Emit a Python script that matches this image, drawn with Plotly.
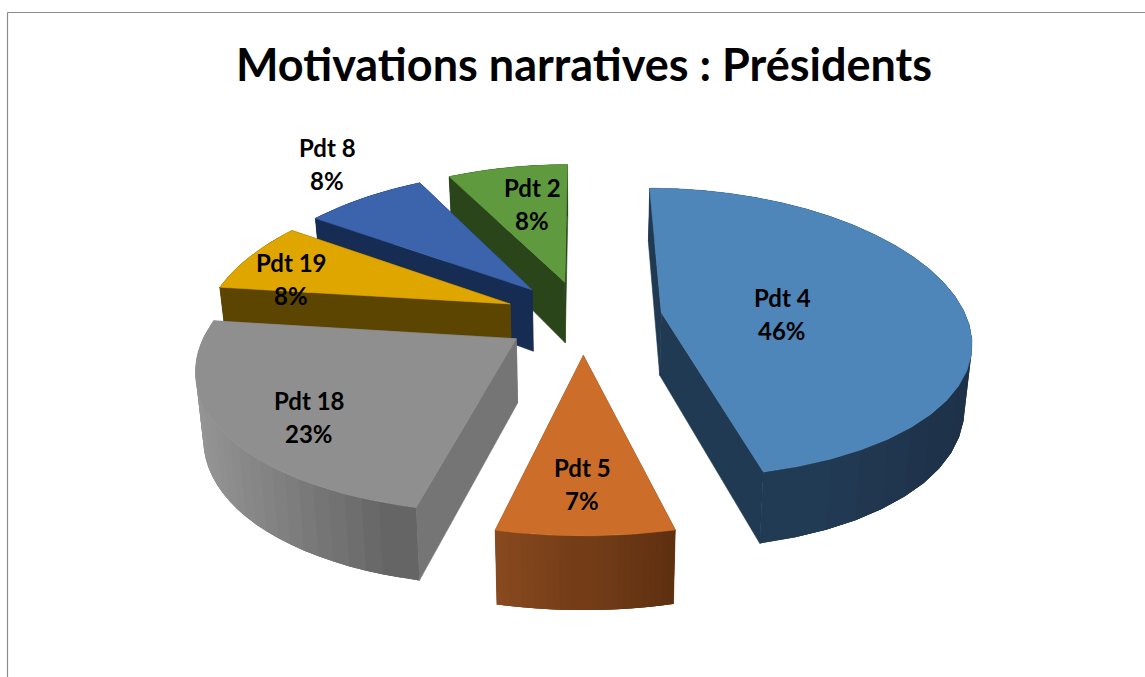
import math
import plotly.graph_objects as go

# ---- data (percent, clockwise from 12 o'clock)
categories = ["Pdt 4", "Pdt 5", "Pdt 18", "Pdt 19", "Pdt 8", "Pdt 2"]
values = [46.3, 7.45, 23.35, 7.7, 7.7, 7.7]
title_text = "Motivations narratives : Présidents"

# ---- styles
top_colors = ["#4f86b9", "#cc6e2a", "#8f8f8f", "#e0a600", "#3b64ad", "#5f9a3f"]
wall_colors = ["#213a53", "#6e3c18", "#757575", "#5c4500", "#172c52", "#2b451a"]
arc_left = ["#26425f", "#8a4a1f", "#969696", "#5c4500", "#172c52", "#2b451a"]
arc_right = ["#1d3046", "#5c2f10", "#636363", "#5c4500", "#172c52", "#2b451a"]
draw_order = [5, 4, 3, 2, 1, 0]
label_xy = [(782, 297, 330), (582, 467, 500), (309, 400, 433),
            (291, 262, 295), (327, 147, 180), (532, 187, 220)]

# ---- simple perspective projection of the exploded disc
CX, CY = 583, 317
R, RS = 305, 143
KX, KY = 0.175, 0.14
EXPLODE = 0.26


def project(u, v, bottom=False):
    x = CX + R * u / (1 + KX * v)
    y = CY - RS * v / (1 + KY * v)
    if bottom:
        x = CX + (x - CX) * 0.98
        y = y + 63 - 9 * v
    return x, y


def mix(a, b, t):
    ca = [int(a[i:i + 2], 16) for i in (1, 3, 5)]
    cb = [int(b[i:i + 2], 16) for i in (1, 3, 5)]
    return "#" + "".join(f"{round(p + (q - p) * t):02x}" for p, q in zip(ca, cb))


def poly(pts, color, lw=0.6):
    xs = [p[0] for p in pts] + [pts[0][0]]
    ys = [p[1] for p in pts] + [pts[0][1]]
    return go.Scatter(x=xs, y=ys, mode="lines", fill="toself", fillcolor=color,
                      line=dict(color=color, width=lw), hoverinfo="skip",
                      showlegend=False)


total = sum(values)
edges = [0.0]
for val in values:
    edges.append(edges[-1] + 360.0 * val / total)

fig = go.Figure()
STEPS = 28
for i in draw_order:
    a0, a1 = math.radians(edges[i]), math.radians(edges[i + 1])
    mid = (a0 + a1) / 2
    ou, ov = EXPLODE * math.sin(mid), EXPLODE * math.cos(mid)
    angs = [a0 + (a1 - a0) * k / STEPS for k in range(STEPS + 1)]
    rim = [(ou + math.sin(a), ov + math.cos(a)) for a in angs]
    apex = (ou, ov)
    walls = []
    for corner in (rim[0], rim[-1]):
        pts = [project(*apex), project(*corner),
               project(*corner, bottom=True), project(*apex, bottom=True)]
        walls.append(((apex[1] + corner[1]) / 2, pts, wall_colors[i], 0.6))
    xs_rim = [project(*p)[0] for p in rim]
    xmin, xmax = min(xs_rim), max(xs_rim)
    for k in range(STEPS):
        seg = rim[max(k - 1, 0):min(k + 3, STEPS + 1)]
        pts = [project(*p) for p in seg] + [project(*p, bottom=True) for p in reversed(seg)]
        cm = project(*rim[k])[0] / 2 + project(*rim[k + 1])[0] / 2
        t = (cm - xmin) / (xmax - xmin)
        dv = (rim[k][1] + rim[k + 1][1]) / 2
        walls.append((dv, pts, mix(arc_left[i], arc_right[i], t), 0))
    for _, pts, col, lw in sorted(walls, key=lambda w: -w[0]):
        fig.add_trace(poly(pts, col, lw))
    fig.add_trace(poly([project(*apex)] + [project(*p) for p in rim], top_colors[i]))

FONT = "Lato, Carlito, Calibri, sans-serif"
annotations = []
for name, val, (lx, y1, y2) in zip(categories, values, label_xy):
    for txt, ly in ((name, y1), (f"{round(val)}%", y2)):
        annotations.append(dict(x=lx, y=ly, xref="x", yref="y", text=f"<b>{txt}</b>",
                                showarrow=False, xanchor="center", yanchor="middle",
                                font=dict(family=FONT, size=24, color="#000000")))

frame_color = "#8c8c8c"
shapes = [
    dict(type="line", xref="x", yref="y", x0=7.5, y0=12.5, x1=1145, y1=12.5,
         line=dict(color=frame_color, width=1.2)),
    dict(type="line", xref="x", yref="y", x0=7.5, y0=12.5, x1=7.5, y1=677,
         line=dict(color=frame_color, width=1.2)),
]

fig.update_layout(
    width=1145, height=677, autosize=False,
    margin=dict(l=0, r=0, t=0, b=0),
    paper_bgcolor="#ffffff", plot_bgcolor="#ffffff",
    showlegend=False,
    title=dict(text=f"<b>{title_text}</b>", x=584 / 1145, xanchor="center",
               y=1 - 65 / 677, yanchor="middle",
               font=dict(family=FONT, size=45, color="#000000")),
    xaxis=dict(range=[0, 1145], visible=False, fixedrange=True),
    yaxis=dict(range=[677, 0], visible=False, fixedrange=True),
    annotations=annotations, shapes=shapes,
)

fig.write_html("out.html", config={"displayModeBar": False},
               post_script="document.body.style.margin='0';document.body.style.overflow='hidden';")
